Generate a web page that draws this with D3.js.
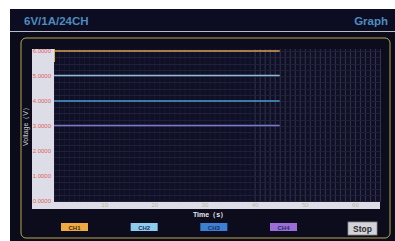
<!DOCTYPE html>
<html><head><meta charset="utf-8">
<script src="https://cdn.jsdelivr.net/npm/d3@7"></script>
<style>
html,body{margin:0;padding:0;background:#fff;}
svg{display:block;}
</style></head>
<body>
<svg id="c" width="395" height="241"></svg>
<script>
// ---- data ----
const title = "6V/1A/24CH";
const pageName = "Graph";
const channels = ["CH1", "CH2", "CH3", "CH4"];
const channelColors = ["#f0aa40", "#8ccdee", "#3b80d2", "#9a6ed6"];
const lineColors = ["#d8a050", "#90bcd8", "#4a9ccc", "#7e7ad2"];
const times = [0, 45];
const ch1Values = [6.0, 6.0];
const ch2Values = [5.02, 5.02];
const ch3Values = [4.0, 4.0];
const ch4Values = [3.02, 3.02];
const seriesValues = [ch1Values, ch2Values, ch3Values, ch4Values];
const yTicks = [0, 1, 2, 3, 4, 5, 6];
const xTicks = [10, 20, 30, 40, 50, 60];
const xDomain = [0, 65];
const yDomain = [0, 6];
const yLabel = "Voltage（V）";
const xLabel = "Time（s）";
const stopLabel = "Stop";

// ---- drawing ----
const svg = d3.select("#c");
svg.append("rect").attr("x", 10).attr("y", 9).attr("width", 385).attr("height", 232).attr("fill", "#0b0b1c");
svg.append("rect").attr("x", 10).attr("y", 9).attr("width", 385).attr("height", 22).attr("fill", "#0c0d22");
svg.append("line").attr("x1", 10).attr("x2", 395).attr("y1", 31.5).attr("y2", 31.5).attr("stroke", "#b8bcc8").attr("stroke-width", 1.2);
svg.append("text").attr("x", 24).attr("y", 25).attr("font-family", "Liberation Sans, Arial, sans-serif")
  .attr("font-weight", "bold").attr("font-size", 11.5).attr("fill", "#4d8cbf").text(title);
svg.append("text").attr("x", 388).attr("y", 25).attr("text-anchor", "end").attr("font-family", "Liberation Sans, Arial, sans-serif")
  .attr("font-weight", "bold").attr("font-size", 11.5).attr("fill", "#4d8cbf").text(pageName);

svg.append("rect").attr("x", 21).attr("y", 38).attr("width", 369).attr("height", 200).attr("rx", 5)
  .attr("fill", "#0c0c1d").attr("stroke", "#b6a84a").attr("stroke-width", 1);

const x = d3.scaleLinear().domain(xDomain).range([54, 380]);
const y = d3.scaleLinear().domain(yDomain).range([201, 51]);

svg.append("rect").attr("x", 32).attr("y", 49).attr("width", 22).attr("height", 160).attr("fill", "#dcdde6");
svg.append("rect").attr("x", 32).attr("y", 202).attr("width", 348).attr("height", 7).attr("fill", "#dcdde6");

svg.append("rect").attr("x", 54).attr("y", 49).attr("width", 326).attr("height", 153).attr("fill", "#0f1026");

const fineX = d3.range(xDomain[0], xDomain[1] + 0.01, 1);
svg.append("g").selectAll("line").data(fineX).join("line")
  .attr("x1", d => x(d) + 0.5).attr("x2", d => x(d) + 0.5)
  .attr("y1", 49).attr("y2", 202)
  .attr("stroke", d => d >= 40 ? "#33344f" : "#181932").attr("stroke-width", 1);
const fineY = d3.range(yDomain[0], yDomain[1] + 0.01, 0.25);
svg.append("g").selectAll("line").data(fineY).join("line")
  .attr("x1", 54).attr("x2", 380)
  .attr("y1", d => Math.round(y(d)) + 0.5).attr("y2", d => Math.round(y(d)) + 0.5)
  .attr("stroke", "#202139").attr("stroke-width", 1);

const yAxis = d3.axisLeft(y).tickValues(yTicks).tickFormat(d3.format(".4f")).tickSize(0).tickPadding(2);
const gy = svg.append("g").attr("transform", "translate(53,0)").call(yAxis);
gy.select(".domain").remove();
gy.selectAll("text").attr("font-family", "Liberation Sans, Arial, sans-serif").attr("font-size", 6).attr("fill", "#e0605a");

const xAxis = d3.axisBottom(x).tickValues(xTicks).tickSize(0).tickPadding(0);
const gx = svg.append("g").attr("transform", "translate(0,202)").call(xAxis);
gx.select(".domain").remove();
gx.selectAll("text").attr("font-family", "Liberation Sans, Arial, sans-serif").attr("font-size", 6).attr("fill", "#b9b9a0").attr("dy", "0.9em");

svg.append("text").attr("transform", "translate(28,125) rotate(-90)").attr("text-anchor", "middle")
  .attr("font-family", "Liberation Sans, Arial, sans-serif").attr("font-size", 7).attr("fill", "#c8c8d0").text(yLabel);
svg.append("text").attr("x", 210).attr("y", 217).attr("text-anchor", "middle")
  .attr("font-family", "Liberation Sans, Arial, sans-serif").attr("font-weight", "bold").attr("font-size", 7).attr("fill", "#e8e8ee").text(xLabel);

const line = d3.line().x((d, i) => x(times[i])).y(d => y(d));
svg.append("g").selectAll("path").data(seriesValues).join("path")
  .attr("d", d => line(d)).attr("fill", "none")
  .attr("stroke", (d, i) => lineColors[i]).attr("stroke-width", 1.4);
svg.append("line").attr("x1", 54.5).attr("x2", 54.5).attr("y1", 49).attr("y2", 62).attr("stroke", "#d8b840").attr("stroke-width", 1);

const legendX = d3.scalePoint().domain(channels).range([74, 283]);
const lg = svg.append("g").selectAll("g").data(channels).join("g")
  .attr("transform", d => `translate(${legendX(d)},0)`);
lg.append("rect").attr("x", -13).attr("y", 223).attr("width", 27).attr("height", 8).attr("fill", (d, i) => channelColors[i]);
lg.append("text").attr("x", 0.5).attr("y", 229.5).attr("text-anchor", "middle")
  .attr("font-family", "Liberation Sans, Arial, sans-serif").attr("font-weight", "bold").attr("font-size", 6)
  .attr("fill", (d, i) => i === 0 ? "#3a2a10" : "#1c2a60").text(d => d);

svg.append("rect").attr("x", 348).attr("y", 222).attr("width", 29).attr("height", 13).attr("fill", "#d4d4d8").attr("stroke", "#8a8a90").attr("stroke-width", 0.8);
svg.append("text").attr("x", 362.5).attr("y", 231.5).attr("text-anchor", "middle")
  .attr("font-family", "Liberation Sans, Arial, sans-serif").attr("font-weight", "bold").attr("font-size", 8.5).attr("fill", "#2a2a30").text(stopLabel);
</script>
</body></html>
